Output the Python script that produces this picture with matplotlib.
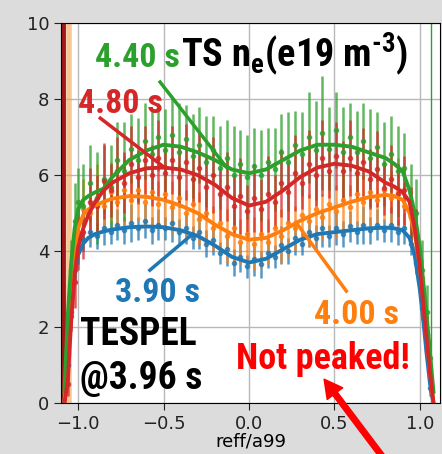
import numpy as np
import matplotlib.pyplot as plt
from matplotlib import font_manager

# Канали TS (reff/a99), спільні для всіх моментів часу
r_ch = [-1.06, -1.04, -1.02, -1.0, -0.97, -0.93, -0.89, -0.85, -0.81, -0.77,
        -0.73, -0.69, -0.65, -0.61, -0.57, -0.53, -0.49, -0.45, -0.41, -0.37,
        -0.33, -0.29, -0.25, -0.21, -0.17, -0.13, -0.09, -0.05, -0.01, 0.03,
        0.07, 0.11, 0.15, 0.19, 0.23, 0.27, 0.31, 0.35, 0.39, 0.43,
        0.47, 0.51, 0.55, 0.59, 0.63, 0.67, 0.71, 0.75, 0.79, 0.83,
        0.87, 0.91, 0.95, 0.98, 1.01, 1.04, 1.06]

ne_390 = [1.0, 2.3, 3.5, 4.0, 4.3, 4.5, 4.4, 4.6, 4.5, 4.7,
          4.55, 4.75, 4.6, 4.8, 4.55, 4.7, 4.6, 4.75, 4.5, 4.6,
          4.35, 4.5, 4.2, 4.3, 3.95, 4.05, 3.7, 3.85, 3.6, 3.8,
          3.65, 3.95, 3.85, 4.15, 4.0, 4.35, 4.2, 4.5, 4.35, 4.6,
          4.4, 4.6, 4.45, 4.65, 4.5, 4.7, 4.55, 4.7, 4.55, 4.7,
          4.5, 4.6, 4.2, 3.7, 2.5, 1.4, 0.4]
err_390 = [0.2, 0.3, 0.3, 0.35, 0.3, 0.4, 0.35, 0.45, 0.3, 0.4,
           0.35, 0.5, 0.3, 0.45, 0.35, 0.4, 0.3, 0.5, 0.35, 0.4,
           0.3, 0.45, 0.35, 0.4, 0.3, 0.45, 0.35, 0.4, 0.3, 0.45,
           0.35, 0.4, 0.3, 0.5, 0.35, 0.45, 0.3, 0.4, 0.35, 0.5,
           0.3, 0.45, 0.35, 0.4, 0.3, 0.5, 0.35, 0.4, 0.3, 0.45,
           0.35, 0.4, 0.3, 0.3, 0.3, 0.25, 0.2]

ne_400 = [1.3, 2.8, 4.2, 4.5, 5.1, 5.0, 5.4, 5.2, 5.55, 5.3,
          5.6, 5.35, 5.6, 5.3, 5.55, 5.25, 5.5, 5.15, 5.4, 5.0,
          5.25, 4.85, 5.0, 4.6, 4.75, 4.4, 4.6, 4.25, 4.45, 4.2,
          4.45, 4.25, 4.6, 4.4, 4.75, 4.6, 4.95, 4.8, 5.1, 4.9,
          5.25, 5.05, 5.35, 5.15, 5.5, 5.3, 5.55, 5.35, 5.6, 5.4,
          5.55, 5.2, 4.9, 4.1, 3.3, 1.7, 0.9]
err_400 = [0.4, 0.5, 0.6, 0.7, 0.8, 0.7, 0.9, 0.6, 0.8, 0.7,
           0.9, 0.6, 0.8, 0.7, 0.9, 0.6, 0.8, 0.7, 0.9, 0.6,
           0.8, 0.7, 0.9, 0.6, 0.8, 0.7, 0.9, 0.6, 0.8, 0.7,
           0.9, 0.6, 0.8, 0.7, 0.9, 0.6, 0.8, 0.7, 0.9, 0.6,
           0.8, 0.7, 0.9, 0.6, 0.8, 0.7, 0.9, 0.6, 0.8, 0.7,
           0.9, 0.6, 0.7, 0.6, 0.5, 0.4, 0.3]

ne_440 = [2.0, 3.5, 4.8, 5.3, 5.2, 5.8, 5.4, 5.9, 5.7, 6.4,
          6.1, 6.7, 6.4, 6.9, 6.55, 7.0, 6.65, 7.05, 6.6, 6.95,
          6.5, 6.8, 6.35, 6.65, 6.2, 6.45, 6.0, 6.3, 5.95, 6.25,
          6.0, 6.35, 6.15, 6.6, 6.35, 6.8, 6.55, 7.0, 6.65, 7.1,
          6.7, 7.2, 6.6, 7.0, 6.6, 6.9, 6.45, 6.75, 6.3, 6.55,
          6.1, 6.2, 5.3, 5.0, 3.5, 2.4, 1.2]
err_440 = [0.6, 0.8, 1.0, 0.9, 1.1, 1.0, 1.2, 0.9, 1.1, 1.0,
           1.3, 0.9, 1.1, 1.0, 1.2, 0.9, 1.1, 1.0, 1.3, 0.9,
           1.1, 1.0, 1.2, 0.9, 1.1, 1.0, 1.3, 0.9, 1.1, 1.0,
           1.2, 0.9, 1.1, 1.0, 1.3, 0.9, 1.1, 1.2, 1.3, 1.5,
           1.1, 1.0, 1.2, 0.9, 1.1, 1.0, 1.3, 0.9, 1.1, 1.0,
           1.2, 0.9, 1.0, 0.9, 0.8, 0.7, 0.5]

ne_480 = [0.5, 2.4, 3.2, 4.3, 4.5, 5.3, 5.2, 5.85, 5.6, 6.1,
          5.8, 6.3, 5.95, 6.4, 6.0, 6.45, 6.05, 6.4, 5.95, 6.35,
          5.9, 6.2, 5.7, 6.0, 5.5, 5.7, 5.2, 5.45, 5.05, 5.4,
          5.1, 5.5, 5.3, 5.8, 5.55, 6.05, 5.8, 6.3, 6.0, 6.45,
          6.1, 6.5, 6.1, 6.45, 6.05, 6.35, 5.9, 6.15, 5.65, 5.9,
          5.5, 5.6, 4.9, 4.4, 3.0, 1.8, 0.7]
err_480 = [0.3, 0.5, 0.7, 0.8, 0.7, 0.9, 0.8, 1.0, 0.7, 0.9,
           0.8, 1.0, 0.7, 0.9, 0.8, 1.0, 0.7, 0.9, 0.8, 1.0,
           0.7, 0.9, 0.8, 1.0, 0.7, 0.9, 0.8, 1.0, 0.7, 0.9,
           0.8, 1.0, 0.7, 0.9, 0.8, 1.0, 0.7, 0.9, 0.8, 1.0,
           0.7, 0.9, 0.8, 1.0, 0.7, 0.9, 0.8, 1.0, 0.7, 0.9,
           0.8, 0.9, 0.8, 0.7, 0.6, 0.5, 0.4]

# Згладжені профілі (фіт)
r_fit = [-1.08, -1.06, -1.04, -1.02, -1.0, -0.97, -0.94, -0.9, -0.85, -0.8,
         -0.7, -0.6, -0.5, -0.4, -0.3, -0.2, -0.1, 0.0, 0.1, 0.2,
         0.3, 0.4, 0.5, 0.6, 0.7, 0.8, 0.85, 0.9, 0.94, 0.97,
         1.0, 1.02, 1.04, 1.06, 1.08]
fit_390 = [0.0, 1.2, 2.5, 3.4, 3.9, 4.2, 4.35, 4.45, 4.52, 4.57,
           4.63, 4.65, 4.63, 4.55, 4.4, 4.15, 3.85, 3.7, 3.8, 4.05,
           4.3, 4.45, 4.5, 4.55, 4.6, 4.62, 4.6, 4.55, 4.35, 3.9,
           3.0, 2.2, 1.3, 0.5, 0.0]
fit_400 = [0.0, 1.5, 3.0, 4.0, 4.6, 4.95, 5.1, 5.2, 5.3, 5.38,
           5.45, 5.43, 5.35, 5.2, 5.0, 4.7, 4.45, 4.3, 4.35, 4.55,
           4.8, 5.0, 5.15, 5.3, 5.42, 5.48, 5.45, 5.35, 5.0, 4.5,
           3.6, 2.7, 1.8, 0.8, 0.0]
fit_440 = [0.3, 2.3, 3.7, 4.6, 5.1, 5.35, 5.45, 5.55, 5.65, 5.95,
           6.4, 6.65, 6.8, 6.75, 6.6, 6.4, 6.15, 6.05, 6.15, 6.4,
           6.65, 6.8, 6.8, 6.75, 6.6, 6.45, 6.3, 6.1, 5.6, 5.0,
           4.1, 3.2, 2.3, 1.3, 0.3]
fit_480 = [0.0, 0.6, 2.2, 3.4, 4.1, 4.6, 4.95, 5.3, 5.6, 5.8,
           6.05, 6.18, 6.2, 6.15, 6.0, 5.75, 5.4, 5.2, 5.3, 5.6,
           5.95, 6.2, 6.3, 6.25, 6.1, 5.8, 5.7, 5.55, 5.3, 4.6,
           3.6, 2.6, 1.7, 0.8, 0.0]

series = [
    ("3.90 s", ne_390, err_390, fit_390, "#1f77b4"),
    ("4.00 s", ne_400, err_400, fit_400, "#ff7f0e"),
    ("4.40 s", ne_440, err_440, fit_440, "#2ca02c"),
    ("4.80 s", ne_480, err_480, fit_480, "#d62728"),
]

# Вибір вузького жирного шрифту, якщо він є
installed = {f.name for f in font_manager.fontManager.ttflist}
label_font = 'Liberation Sans'
for cand in ['Liberation Sans Narrow', 'Roboto Condensed', 'Open Sans Condensed',
             'DejaVu Sans Condensed', 'Liberation Sans']:
    if cand in installed:
        label_font = cand
        break

plt.rcParams['mathtext.fontset'] = 'custom'
plt.rcParams['mathtext.rm'] = label_font + ':bold'
plt.rcParams['mathtext.bf'] = label_font + ':bold'
plt.rcParams['mathtext.it'] = label_font + ':bold'

fig = plt.figure(figsize=(4.42, 4.54), dpi=100, facecolor='#dcdcdc')
ax = fig.add_axes([0.138, 0.112, 0.857, 0.837])

# Межі плазми
ax.axvline(-1.088, color='#a01818', lw=3.5, zorder=1)
ax.axvline(-1.055, color='#f5a050', lw=4, alpha=0.6, zorder=1)
ax.axvline(1.064, color='#2ca02c', lw=1, zorder=1)

# Точки з похибками
for name, ne, err, fit, col in series:
    ax.errorbar(r_ch, ne, yerr=err, fmt='o', ms=3, color=col, ecolor=col,
                elinewidth=1.8, alpha=0.75, zorder=2)

# Фіти поверх точок
for name, ne, err, fit, col in series:
    ax.plot(r_fit, fit, color=col, lw=2.8, zorder=3)

ax.set_xlim(-1.1, 1.117)
ax.set_ylim(0, 10)
ax.set_xticks([-1.0, -0.5, 0.0, 0.5, 1.0])
ax.set_yticks([0, 2, 4, 6, 8, 10])
ax.tick_params(labelsize=13, length=5, colors='#222222')
ax.set_xlabel("reff/a99", fontsize=13, labelpad=0)
ax.grid(color='#b8b8b8', lw=1)
ax.set_axisbelow(True)

bold = dict(family=[label_font, 'DejaVu Sans'], weight='bold')

ax.text(-0.90, 8.84, "4.40 s", color='#2ca02c', fontsize=24.5, ha='left', va='baseline', **bold)
ax.text(-0.40, 8.84, "TS n$_{\\rm e}$(e19 m$^{\\rm \u2010 3}$)", color='black', fontsize=27.5,
        ha='left', va='baseline', **bold)
ax.text(-1.0, 7.63, "4.80 s", color='#d62728', fontsize=24.5, ha='left', va='baseline', **bold)
ax.text(-0.784, 2.66, "3.90 s", color='#1f77b4', fontsize=24.5, ha='left', va='baseline', **bold)
ax.text(0.38, 2.08, "4.00 s", color='#ff7f0e', fontsize=24.5, ha='left', va='baseline', **bold)
ax.text(-0.988, 1.53, "TESPEL", color='black', fontsize=27, ha='left', va='baseline', **bold)
ax.text(-0.988, 0.37, "@3.96 s", color='black', fontsize=27, ha='left', va='baseline', **bold)
ax.text(-0.076, 0.89, "Not peaked!", color='#ff0000', fontsize=26, ha='left', va='baseline', **bold)

# Виносні лінії до підписів
ax.plot([-0.52, -0.13], [8.45, 6.2], color='#2ca02c', lw=2.5, zorder=4)
ax.plot([-0.87, -0.5], [7.5, 6.22], color='#d62728', lw=2.5, zorder=4)
ax.plot([-0.58, -0.33], [3.5, 4.45], color='#1f77b4', lw=2.5, zorder=4)
ax.plot([0.57, 0.275], [2.95, 4.76], color='#ff7f0e', lw=2.5, zorder=4)

# Червона стрілка
ax.annotate("", xy=(0.44, 0.63), xycoords='data',
            xytext=(0.78, -1.4), textcoords='data',
            arrowprops=dict(facecolor='#ff0000', edgecolor='#ff0000',
                            width=4, headwidth=14, headlength=13),
            annotation_clip=False, zorder=5)

fig.savefig("out.png", dpi=100, facecolor=fig.get_facecolor())
